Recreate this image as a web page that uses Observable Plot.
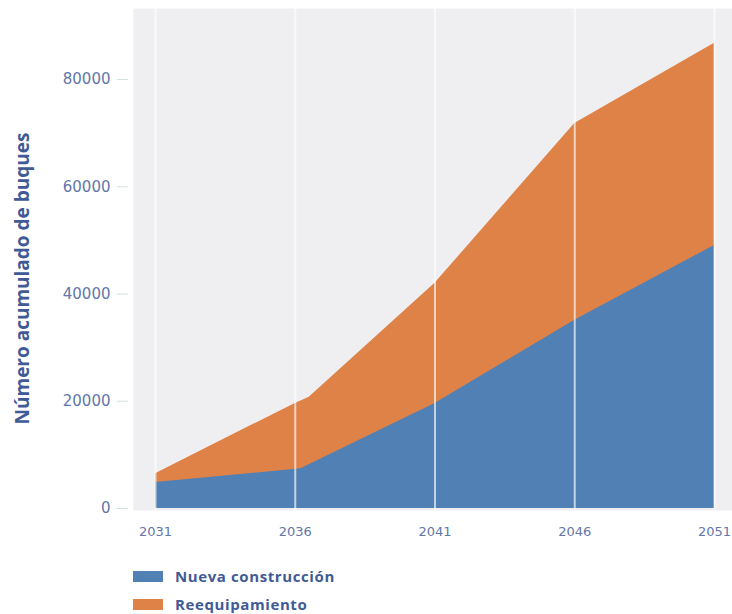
<!DOCTYPE html>
<html>
<head>
<meta charset="utf-8">
<script src="https://cdn.jsdelivr.net/npm/d3@7"></script>
<script src="https://cdn.jsdelivr.net/npm/@observablehq/plot@0.6"></script>
<style>
  html, body { margin: 0; padding: 0; background: #ffffff; }
  body { width: 732px; height: 614px; overflow: hidden; font-family: "Open Sans", "DejaVu Sans", sans-serif; }
  #chart svg { display: block; }
  .legend { position: relative; margin-left: 133px; margin-top: 17px; }
  .legend .row { display: flex; align-items: center; height: 28px; }
  .legend .sw { width: 30px; height: 11px; margin-right: 12px; }
  .legend .lb { font-family: "Open Sans", sans-serif; font-weight: 700; font-size: 15px; line-height: 18px; color: #3f5a95; letter-spacing: 0.6px; }
</style>
</head>
<body>
<div id="chart"></div>
<div class="legend" id="legend"></div>
<script>
// Series names
const seriesNames = ["Nueva construcción", "Reequipamiento"];
const seriesColors = ["#5180B4", "#DF8248"];

// Nueva construcción (cumulative ships)
const newYears = [2031, 2036.2, 2041, 2046, 2051];
const newValues = [4850, 7400, 19600, 35100, 49050];

// Top of stacked area: Nueva construcción + Reequipamiento
const totalYears = [2031, 2036, 2036.5, 2041, 2046, 2051];
const totalValues = [6500, 19600, 20750, 42000, 71800, 86750];

// Tick labels
const xTicks = [2031, 2036, 2041, 2046, 2051];
const yTicks = [0, 20000, 40000, 60000, 80000];

const newData = newYears.map((x, i) => ({x, y: newValues[i]}));
const totalData = totalYears.map((x, i) => ({x, y: totalValues[i]}));

const textColor = "#6376AA";

const chart = Plot.plot({
  width: 732,
  height: 545,
  marginLeft: 133,
  marginRight: 0,
  marginTop: 8,
  marginBottom: 35,
  insetLeft: 22,
  insetRight: 18,
  insetBottom: 2,
  style: {fontFamily: "DejaVu Sans, sans-serif", fontSize: "13px", background: "transparent"},
  x: {domain: [2031, 2051], ticks: xTicks, tickFormat: d => String(d)},
  y: {domain: [0, 93240], ticks: yTicks, tickFormat: d => String(d)},
  marks: [
    Plot.frame({fill: "#EFEEF1", stroke: null}),
    Plot.areaY(totalData, {x: "x", y: "y", fill: seriesColors[1]}),
    Plot.areaY(newData, {x: "x", y: "y", fill: seriesColors[0]}),
    Plot.ruleX(xTicks, {stroke: "#ffffff", strokeWidth: 2, strokeOpacity: 0.65}),
    Plot.axisX({ticks: xTicks, tickSize: 0, tickPadding: 16, fill: textColor, fontSize: 13, tickFormat: d => String(d), label: null}),
    Plot.axisY({ticks: yTicks, tickSize: 11, tickPadding: 7, dx: -5, stroke: "#d3e3d8", fill: textColor, fontSize: 15, tickFormat: d => String(d), label: null}),
    Plot.text(["Número acumulado de buques"], {
      frameAnchor: "left", dx: -111, dy: 19, rotate: -90, textAnchor: "middle",
      fontSize: 19, fontWeight: "bold", fill: "#3f5a95", fontFamily: "Open Sans, sans-serif"
    })
  ]
});
document.getElementById("chart").appendChild(chart);

const legend = document.getElementById("legend");
seriesNames.forEach((name, i) => {
  const row = document.createElement("div");
  row.className = "row";
  const sw = document.createElement("div");
  sw.className = "sw";
  sw.style.background = seriesColors[i];
  const lb = document.createElement("span");
  lb.className = "lb";
  lb.textContent = name;
  row.appendChild(sw);
  row.appendChild(lb);
  legend.appendChild(row);
});
</script>
</body>
</html>
